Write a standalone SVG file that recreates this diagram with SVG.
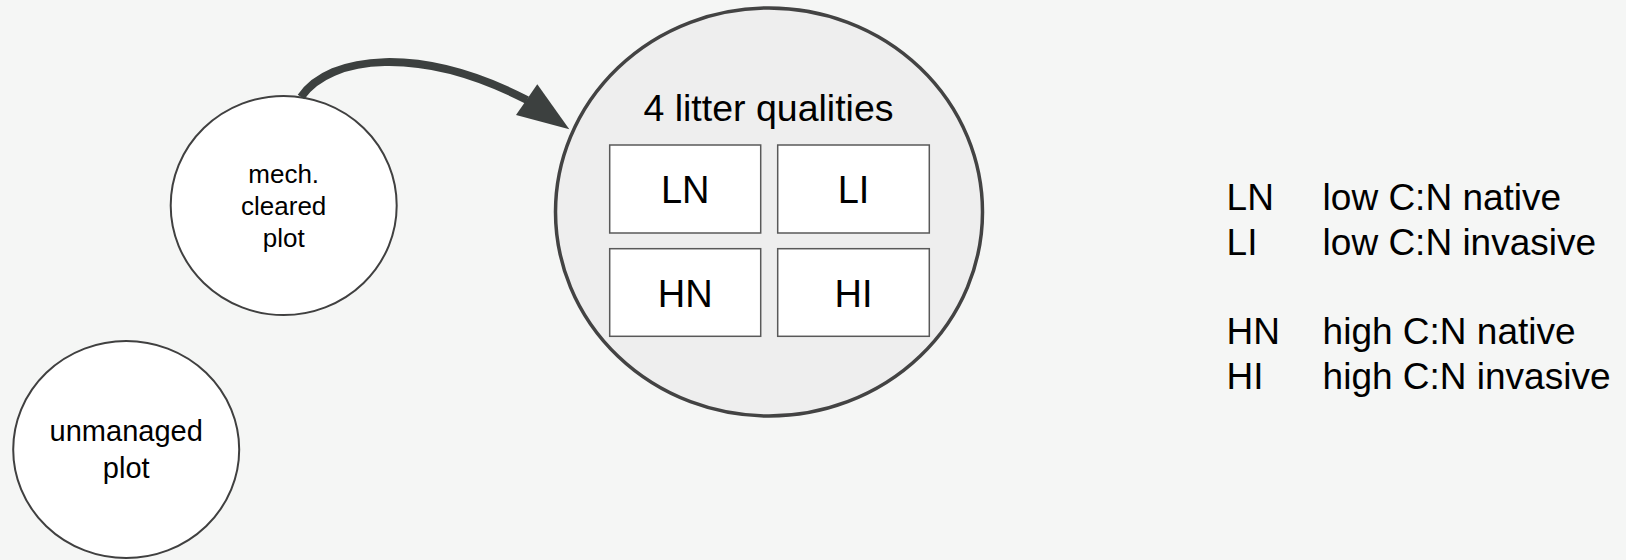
<svg xmlns="http://www.w3.org/2000/svg" width="1626" height="560" viewBox="0 0 1626 560">
  <style>
    text { font-family: "Liberation Sans", Arial, sans-serif; fill: #000; }
    .plot { fill: #ffffff; stroke: #404040; stroke-width: 2; }
    .pool { fill: #eeeeee; stroke: #434343; stroke-width: 3.5; }
    .box { fill: #ffffff; stroke: #595959; stroke-width: 1.5; }
    .boxlabel { font-size: 38px; text-anchor: middle; }
    .legend { font-size: 37px; }
    .link { fill: none; stroke: #3c403f; stroke-width: 8; }
  </style>

  <rect width="1626" height="560" fill="#f5f6f5"/>

  <!-- plots -->
  <g id="mech-cleared-plot">
    <ellipse class="plot" cx="283.7" cy="205.5" rx="113" ry="109.5"/>
    <text x="283.7" y="183.3" font-size="26" text-anchor="middle">mech.</text>
    <text x="283.7" y="215" font-size="26" text-anchor="middle">cleared</text>
    <text x="283.7" y="246.7" font-size="26" text-anchor="middle">plot</text>
  </g>

  <g id="unmanaged-plot">
    <ellipse class="plot" cx="126.2" cy="449.5" rx="113" ry="108.5"/>
    <text x="126.2" y="440.7" font-size="29" text-anchor="middle">unmanaged</text>
    <text x="126.2" y="478.3" font-size="29" text-anchor="middle">plot</text>
  </g>

  <!-- litter pool with its four qualities -->
  <g id="litter-qualities">
    <ellipse class="pool" cx="769" cy="212" rx="213.5" ry="204"/>
    <text x="768.5" y="121" font-size="37.5" text-anchor="middle">4 litter qualities</text>
  </g>
  <g id="LN">
    <rect class="box" x="609.7" y="145" width="151" height="88"/>
    <text class="boxlabel" x="685.2" y="203">LN</text>
  </g>
  <g id="LI">
    <rect class="box" x="777.7" y="145" width="151.6" height="88"/>
    <text class="boxlabel" x="853.5" y="203">LI</text>
  </g>
  <g id="HN">
    <rect class="box" x="609.7" y="248.7" width="151" height="87.6"/>
    <text class="boxlabel" x="685.2" y="306.5">HN</text>
  </g>
  <g id="HI">
    <rect class="box" x="777.7" y="248.7" width="151.6" height="87.6"/>
    <text class="boxlabel" x="853.5" y="306.5">HI</text>
  </g>

  <!-- connectors -->
  <g id="connectors">
    <path class="link" d="M301,97 C330,55 420,45 527,100"/>
    <polygon points="569.3,129.3 516,115 537.3,84.3" fill="#3c403f"/>
  </g>

  <!-- legend -->
  <g id="legend">
    <text class="legend" x="1226.6" y="210">LN</text>
    <text class="legend" x="1322.6" y="210">low C:N native</text>
    <text class="legend" x="1226.6" y="255">LI</text>
    <text class="legend" x="1322.6" y="255">low C:N invasive</text>
    <text class="legend" x="1226.6" y="344.3">HN</text>
    <text class="legend" x="1322.6" y="344.3">high C:N native</text>
    <text class="legend" x="1226.6" y="389.3">HI</text>
    <text class="legend" x="1322.6" y="389.3">high C:N invasive</text>
  </g>
</svg>
